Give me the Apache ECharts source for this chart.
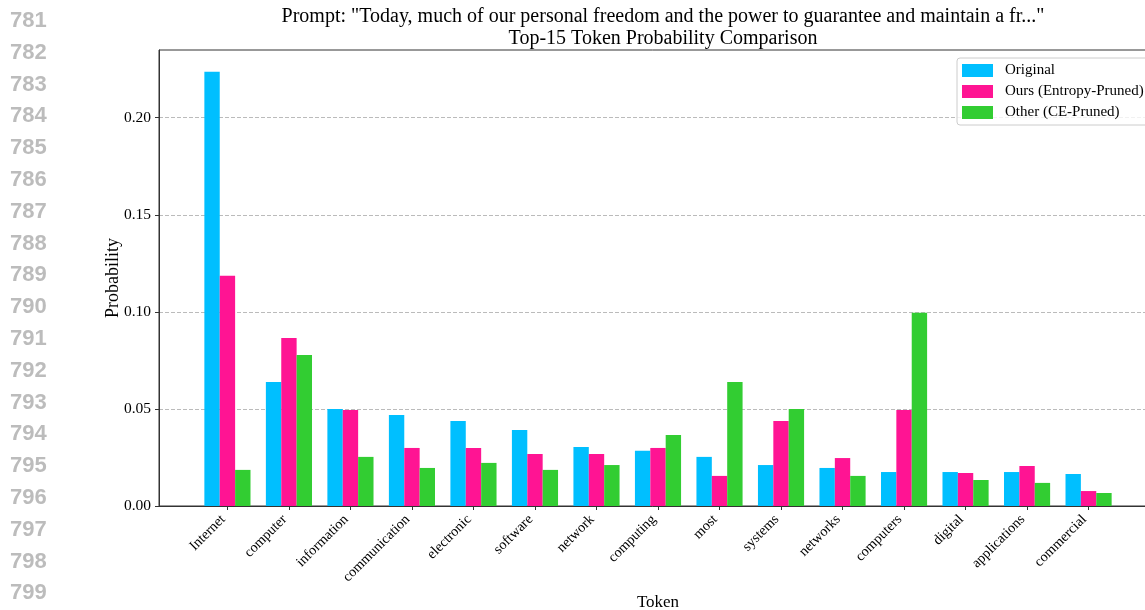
<!DOCTYPE html>
<html>
<head>
<meta charset="utf-8">
<script src="https://cdn.jsdelivr.net/npm/echarts@6/dist/echarts.min.js"></script>
<style>
html,body{margin:0;padding:0;background:#fff;}
#chart{width:1145px;height:610px;}
</style>
</head>
<body>
<div id="chart"></div>
<script>
const categories = ['Internet','computer','information','communication','electronic','software','network','computing','most','systems','networks','computers','digital','applications','commercial'];
const originalValues = [0.2237,0.0639,0.0500,0.0469,0.0438,0.0392,0.0304,0.0284,0.0253,0.0211,0.0196,0.0175,0.0175,0.0175,0.0165];
const oursValues = [0.1186,0.0866,0.0495,0.0299,0.0299,0.0268,0.0268,0.0299,0.0155,0.0438,0.0247,0.0495,0.0170,0.0206,0.0077];
const otherValues = [0.0186,0.0778,0.0253,0.0196,0.0222,0.0186,0.0211,0.0366,0.0639,0.0500,0.0155,0.0995,0.0134,0.0119,0.0067];
const seriesNames = ['Original','Ours (Entropy-Pruned)','Other (CE-Pruned)'];
const yTicks = [0, 0.05, 0.10, 0.15, 0.20];
const lineNumbers = ['781','782','783','784','785','786','787','788','789','790','791','792','793','794','795','796','797','798','799'];

const serif = '"Liberation Serif","DejaVu Serif",serif';
const colors = ['#00BFFF','#FF1493','#32CD32'];
const catIdx = categories.map((c,i)=>i);

function toData(vals){ return vals.map((v,i)=>[i,v]); }

const chart = echarts.init(document.getElementById('chart'), null, {renderer:'canvas'});

const graphics = lineNumbers.map((t,i)=>({
  type:'text', left:10, top: 10 + i*31.8,
  style:{text:t, fill:'#bcbcbc', font:'bold 22px "Liberation Sans", Arial, sans-serif'}
}));

chart.setOption({
  animation:false,
  color: colors,
  title:{
    text:'Prompt: "Today, much of our personal freedom and the power to guarantee and maintain a fr..."\nTop-15 Token Probability Comparison',
    left:658, top:1, textAlign:'center',
    textStyle:{fontFamily:serif, fontSize:20, fontWeight:'normal', color:'#000', lineHeight:22}
  },
  legend:{
    data: seriesNames,
    orient:'vertical', left:957, top:58,
    itemWidth:31, itemHeight:13, itemGap:6,
    padding:[5,6,5,5],
    borderColor:'#cccccc', borderWidth:1, borderRadius:3,
    backgroundColor:'rgba(255,255,255,0.8)',
    icon:'rect',
    textStyle:{fontFamily:serif, fontSize:15, color:'#000', lineHeight:15, padding:[0,0,0,7]}
  },
  grid:{left:159, top:50, width:998, height:456, show:true, borderColor:'#333', borderWidth:1, outerBoundsMode:'none', containLabel:false},
  xAxis:{
    type:'value', min:-1.1125, max:15.1125,
    name:'Token', nameLocation:'middle', nameGap:88, nameMoveOverlap:false,
    nameTextStyle:{fontFamily:serif, fontSize:17, color:'#000'},
    splitLine:{show:false},
    axisLine:{show:true, onZero:false, lineStyle:{color:'#333', width:1}},
    axisTick:{show:true, customValues:catIdx, length:4, inside:false, lineStyle:{color:'#333'}},
    axisLabel:{customValues:catIdx, rotate:45, margin:7, padding:[0,6,0,0], fontFamily:serif, fontSize:14.2, color:'#000',
      formatter:(v)=>categories[Math.round(v)] || ''}
  },
  yAxis:{
    type:'value', min:0, max:0.2349,
    name:'Probability', nameLocation:'middle', nameGap:37, nameMoveOverlap:false,
    nameTextStyle:{fontFamily:serif, fontSize:18, color:'#000'},
    axisLine:{show:true, onZero:false, lineStyle:{color:'#333', width:1}},
    axisTick:{show:true, customValues:yTicks, length:4, lineStyle:{color:'#333'}},
    axisLabel:{customValues:yTicks, margin:8, fontFamily:serif, fontSize:15.5, color:'#000', formatter:(v)=>v.toFixed(2)},
    splitLine:{show:true, lineStyle:{color:'#bbbbbb', type:[4,2], width:1}},
    interval:0.05
  },
  series:[
    {name:seriesNames[0], type:'bar', data:toData(originalValues), barGap:'0%', barCategoryGap:'25%', itemStyle:{color:colors[0]}},
    {name:seriesNames[1], type:'bar', data:toData(oursValues), barGap:'0%', barCategoryGap:'25%', itemStyle:{color:colors[1]}},
    {name:seriesNames[2], type:'bar', data:toData(otherValues), barGap:'0%', barCategoryGap:'25%', itemStyle:{color:colors[2]}}
  ],
  graphic: graphics
});
</script>
</body>
</html>
